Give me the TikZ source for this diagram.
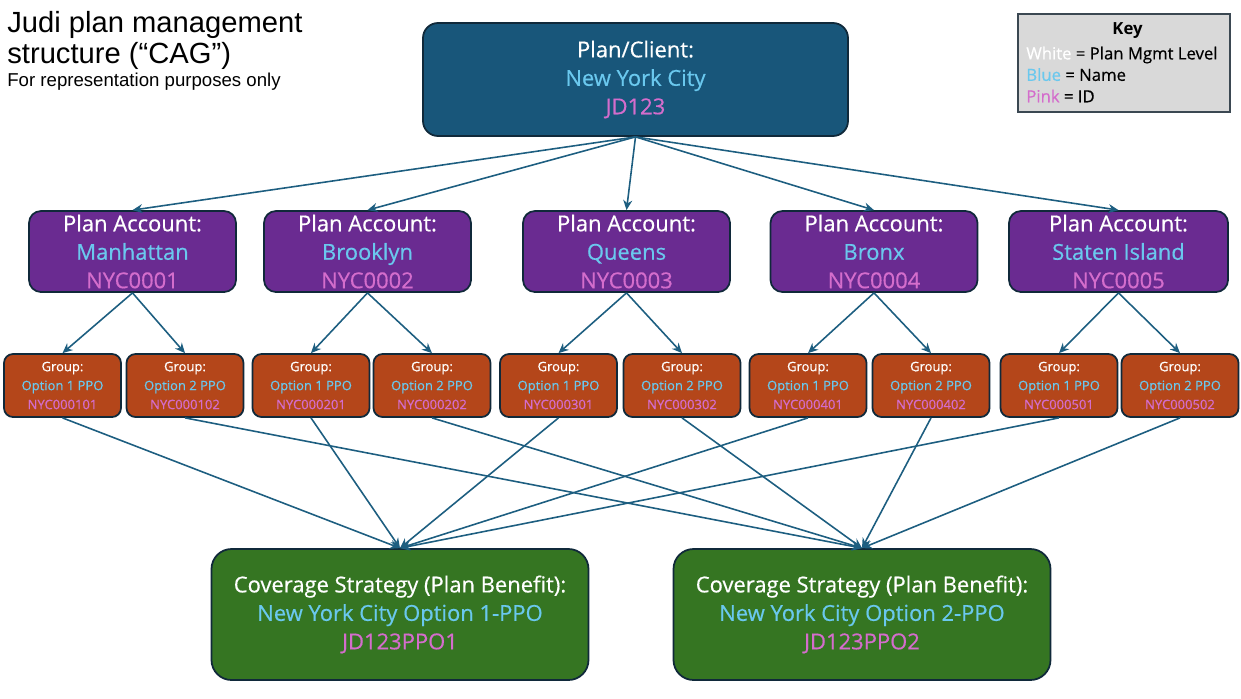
\documentclass[tikz,border=0pt]{standalone}
\usepackage{fontspec}
\setmainfont{Open Sans}[FakeBold=0.5]
\newfontfamily\titlefont{Liberation Sans}
\newfontfamily\keyboldfont{Open Sans Bold}
\usetikzlibrary{arrows.meta}
\definecolor{clientfill}{HTML}{18567A}
\definecolor{acctfill}{HTML}{6A2B91}
\definecolor{groupfill}{HTML}{B4461A}
\definecolor{covfill}{HTML}{357522}
\definecolor{boxedge}{HTML}{10293A}
\definecolor{linkline}{HTML}{1D5E80}
\definecolor{keyfill}{HTML}{D9D9D9}
\definecolor{keyedge}{HTML}{3B4852}
\definecolor{namecol}{HTML}{6AC8EE}
\definecolor{idcol}{HTML}{D46DCC}
\newcommand{\pname}[1]{{\color{namecol}#1}}
\newcommand{\pid}[1]{{\color{idcol}#1}}
\tikzset{
  level/.style={draw=boxedge, line width=1pt, text=white, align=center,
                inner sep=0pt, font=\fontsize{12.5}{16.2}\selectfont},
  client/.style={level, fill=clientfill, rounded corners=3mm,
                 minimum width=8.5cm, minimum height=2.26cm},
  acct/.style={level, fill=acctfill, rounded corners=2.4mm,
               minimum width=4.14cm, minimum height=1.62cm},
  grp/.style={level, fill=groupfill, rounded corners=1.8mm,
              minimum width=2.34cm, minimum height=1.26cm,
              font=\fontsize{7.4}{10.8}\selectfont},
  cov/.style={level, fill=covfill, rounded corners=4mm,
              minimum width=7.54cm, minimum height=2.62cm},
  link/.style={draw=linkline, line width=0.9pt,
               -{Stealth[length=2mm, width=1.8mm]}},
}

\begin{document}
\begin{tikzpicture}
    \useasboundingbox (0,0) rectangle (24.82,-13.96);
    % title
    \node[anchor=north west, align=left, inner sep=0pt,
          font=\titlefont\fontsize{16.6}{17.4}\selectfont] (title) at (0.14,-0.22)
          {Judi plan management\\structure (“CAG”)};
    \node[anchor=north west, inner sep=0pt,
          font=\titlefont\fontsize{10.6}{12}\selectfont] (subtitle) at (0.14,-1.46)
          {For representation purposes only};
    % key
    \node[draw=keyedge, fill=keyfill, line width=0.8pt, minimum width=4.24cm,
          minimum height=1.96cm] (key) at (22.48,-1.26) {};
    \node[font=\keyboldfont\fontsize{9.5}{12}\selectfont, inner sep=0pt] (keyhead) at (22.55,-0.62) {Key};
    \node[anchor=west, align=left, inner sep=0pt, font=\fontsize{9.5}{12.2}\selectfont]
          (keytext) at (20.52,-1.49)
          {{\color{white}White} = Plan Mgmt Level\\\pname{Blue} = Name\\\pid{Pink} = ID};
    % plan / client
    \node[client] (client) at (12.71,-1.59)
          {Plan/Client:\\\pname{New York City}\\\pid{JD123}};
    % plan accounts
    \node[acct] (a1) at (2.65,-5.03) {Plan Account:\\\pname{Manhattan}\\\pid{NYC0001}};
    \node[acct] (a2) at (7.35,-5.03) {Plan Account:\\\pname{Brooklyn}\\\pid{NYC0002}};
    \node[acct] (a3) at (12.53,-5.03) {Plan Account:\\\pname{Queens}\\\pid{NYC0003}};
    \node[acct] (a4) at (17.48,-5.03) {Plan Account:\\\pname{Bronx}\\\pid{NYC0004}};
    \node[acct, minimum width=4.38cm] (a5) at (22.37,-5.03) {Plan Account:\\\pname{Staten Island}\\\pid{NYC0005}};
    % groups
    \node[grp] (g11) at (1.25,-7.71) {Group:\\\pname{Option 1 PPO}\\\pid{NYC000101}};
    \node[grp] (g12) at (3.70,-7.71) {Group:\\\pname{Option 2 PPO}\\\pid{NYC000102}};
    \node[grp] (g21) at (6.22,-7.71) {Group:\\\pname{Option 1 PPO}\\\pid{NYC000201}};
    \node[grp] (g22) at (8.64,-7.71) {Group:\\\pname{Option 2 PPO}\\\pid{NYC000202}};
    \node[grp] (g31) at (11.17,-7.71) {Group:\\\pname{Option 1 PPO}\\\pid{NYC000301}};
    \node[grp] (g32) at (13.64,-7.71) {Group:\\\pname{Option 2 PPO}\\\pid{NYC000302}};
    \node[grp] (g41) at (16.16,-7.71) {Group:\\\pname{Option 1 PPO}\\\pid{NYC000401}};
    \node[grp] (g42) at (18.62,-7.71) {Group:\\\pname{Option 2 PPO}\\\pid{NYC000402}};
    \node[grp] (g51) at (21.18,-7.71) {Group:\\\pname{Option 1 PPO}\\\pid{NYC000501}};
    \node[grp] (g52) at (23.60,-7.71) {Group:\\\pname{Option 2 PPO}\\\pid{NYC000502}};
    % coverage strategies
    \node[cov] (cov1) at (8.0,-12.29)
          {Coverage Strategy (Plan Benefit):\\\pname{New York City Option 1-PPO}\\\pid{JD123PPO1}};
    \node[cov] (cov2) at (17.24,-12.29)
          {Coverage Strategy (Plan Benefit):\\\pname{New York City Option 2-PPO}\\\pid{JD123PPO2}};
    % connectors
    \foreach \a in {1,...,5} {
      \draw[link] (client.south) -- (a\a.north);
      \draw[link] (a\a.south) -- (g\a1.north);
      \draw[link] (a\a.south) -- (g\a2.north);
      \draw[link] (g\a1.south) -- (cov1.north);
      \draw[link] (g\a2.south) -- (cov2.north);
    }
\end{tikzpicture}
\end{document}
